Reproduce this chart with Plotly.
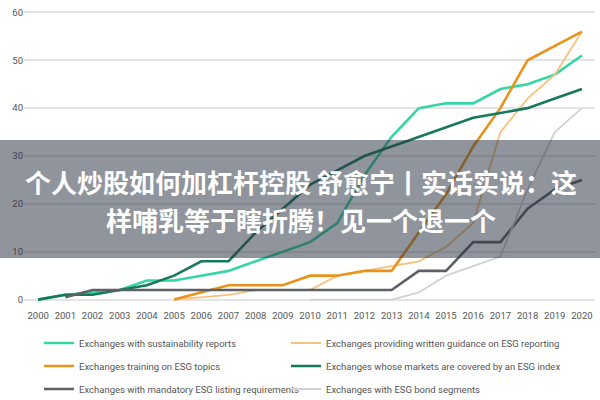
import plotly.graph_objects as go

years = list(range(2000, 2021))

sustainability = [0, 1, 1.5, 2, 4, 4, 5, 6, 8, 10, 12, 16, 26, 34, 40, 41, 41, 44, 45, 47, 51]
guidance_years = list(range(2005, 2021))
guidance = [0, 0.5, 1, 2, 2, 2, 5, 6, 7, 8, 11, 16, 35, 42, 47, 56]
training_years = list(range(2005, 2021))
training = [0, 1.5, 3, 3, 3, 5, 5, 6, 6, 14, 22, 32, 40, 50, 53, 56]
esg_index = [0, 1, 1, 2, 3, 5, 8, 8, 14, 19, 24, 27, 30, 32, 34, 36, 38, 39, 40, 42, 44]
mandatory_years = list(range(2001, 2021))
mandatory = [0.5, 2, 2, 2, 2, 2, 2, 2, 2, 2, 2, 2, 2, 6, 6, 12, 12, 19, 23, 25]
bond_years = list(range(2010, 2021))
bonds = [0, 0, 0, 0, 1.5, 5, 7, 9, 23, 35, 40]

names = [
    "Exchanges with sustainability reports",
    "Exchanges providing written guidance on ESG reporting",
    "Exchanges training on ESG topics",
    "Exchanges whose markets are covered by an ESG index",
    "Exchanges with mandatory ESG listing requirements",
    "Exchanges with ESG bond segments",
]
title_line1 = "个人炒股如何加杠杆控股 舒愈宁丨实话实说：这"
title_line2 = "样哺乳等于瞎折腾！见一个退一个"

series = [
    (years, sustainability, "#35d6a6", 2.6),
    (guidance_years, guidance, "#f6c27c", 1.8),
    (training_years, training, "#e8941c", 2.6),
    (years, esg_index, "#17795b", 2.6),
    (mandatory_years, mandatory, "#5d6167", 2.6),
    (bond_years, bonds, "#d2d2d2", 1.8),
]
legend_ids = ["legend", "legend2", "legend3", "legend4", "legend5", "legend6"]

fig = go.Figure()
for (xs, ys, color, w), name, leg in zip(series, names, legend_ids):
    fig.add_trace(go.Scatter(x=xs, y=ys, mode="lines", name=name,
                             line=dict(color=color, width=w), legend=leg))

W, H = 600, 400
L, R, T, B = 24, 5, 10, 98
pw, ph = W - L - R, H - T - B


def px_x(px):
    return (px - L) / pw


def px_y(py):
    return (H - B - py) / ph


fig.add_shape(type="rect", xref="paper", yref="paper",
              x0=px_x(0), x1=px_x(600), y0=px_y(258), y1=px_y(140),
              fillcolor="rgba(42,50,66,0.52)", line=dict(width=0), layer="above")

for txt, py in [(title_line1, 181), (title_line2, 219)]:
    fig.add_annotation(text="<b>" + txt + "</b>", xref="paper", yref="paper",
                       x=px_x(301), y=px_y(py), showarrow=False,
                       xanchor="center", yanchor="middle",
                       font=dict(family="Noto Sans CJK SC", size=26, color="white"))

tick_font = dict(family="Roboto, sans-serif", size=9.5, color="#555")
leg_font = dict(family="Roboto, sans-serif", size=9.5, color="#555")

legend_layout = {}
col_x = [39, 286]
row_y = [343, 366, 389]
for i, leg in enumerate(legend_ids):
    legend_layout[leg] = dict(
        orientation="h", xref="container", yref="container",
        x=col_x[i % 2] / W, y=1 - row_y[i // 2] / H,
        xanchor="left", yanchor="middle",
        font=leg_font, itemwidth=30, bgcolor="rgba(0,0,0,0)")

fig.update_layout(
    width=W, height=H,
    margin=dict(l=L, r=R, t=T, b=B),
    paper_bgcolor="white", plot_bgcolor="white",
    showlegend=True,
    xaxis=dict(range=[1999.48, 2020.48], tickmode="array", tickvals=years,
               ticktext=[str(y) for y in years], showgrid=False, zeroline=False,
               showline=False, ticks="", ticklabelstandoff=6, tickfont=tick_font),
    yaxis=dict(range=[-0.5, 60.5], tickvals=[0, 10, 20, 30, 40, 50, 60],
               showgrid=True, gridcolor="#e4e4e4", gridwidth=1.5, zeroline=False,
               showline=False, ticks="", tickfont=tick_font),
    **legend_layout,
)

fig.write_html("out.html")
